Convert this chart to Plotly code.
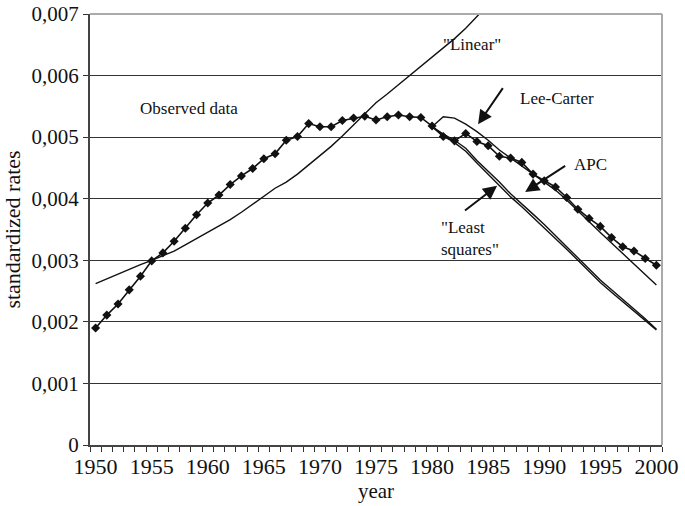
import plotly.graph_objects as go

years = list(range(1950, 2001))
observed = [1.90, 2.11, 2.29, 2.52, 2.74, 2.99, 3.12, 3.31, 3.52, 3.74,
            3.93, 4.06, 4.23, 4.37, 4.49, 4.65, 4.73, 4.95, 5.01, 5.22,
            5.17, 5.17, 5.27, 5.31, 5.34, 5.28, 5.33, 5.36, 5.33, 5.32,
            5.18, 5.01, 4.94, 5.06, 4.93, 4.86, 4.69, 4.66, 4.59, 4.40,
            4.29, 4.19, 4.02, 3.83, 3.68, 3.55, 3.37, 3.22, 3.15, 3.03, 2.92]

linear_years = list(range(1950, 1986))
linear = [2.62, 2.70, 2.78, 2.85, 2.93, 3.00, 3.08, 3.15, 3.25, 3.35,
          3.45, 3.56, 3.66, 3.78, 3.91, 4.05, 4.17, 4.27, 4.40, 4.55,
          4.70, 4.85, 5.02, 5.20, 5.38, 5.56, 5.70, 5.85, 6.00, 6.15,
          6.30, 6.45, 6.60, 6.77, 6.96, 7.15]

proj_years = list(range(1980, 2001))
lee_carter = [5.17, 5.33, 5.31, 5.21, 5.09, 4.95, 4.79, 4.66, 4.53, 4.40,
              4.28, 4.14, 3.98, 3.80, 3.62, 3.45, 3.28, 3.11, 2.94, 2.77, 2.60]
apc = [5.17, 5.05, 4.95, 4.82, 4.62, 4.45, 4.27, 4.08, 3.92, 3.75,
       3.58, 3.40, 3.23, 3.05, 2.87, 2.68, 2.52, 2.37, 2.21, 2.05, 1.88]
least_squares = [5.17, 5.02, 4.91, 4.77, 4.58, 4.40, 4.22, 4.03, 3.87, 3.70,
                 3.53, 3.35, 3.18, 3.00, 2.82, 2.64, 2.48, 2.33, 2.18, 2.03, 1.87]

y_ticks = [0, 0.001, 0.002, 0.003, 0.004, 0.005, 0.006, 0.007]
y_ticktext = ["0", "0,001", "0,002", "0,003", "0,004", "0,005", "0,006", "0,007"]
x_ticks = list(range(1950, 2001, 5))

scale = 0.001
FONT = "Liberation Serif, Times New Roman, serif"

fig = go.Figure()
line_style = dict(color="#111111", width=1.4)
fig.add_trace(go.Scatter(x=linear_years, y=[v * scale for v in linear], mode="lines",
                         line=line_style, showlegend=False))
fig.add_trace(go.Scatter(x=proj_years, y=[v * scale for v in lee_carter], mode="lines",
                         line=line_style, showlegend=False))
fig.add_trace(go.Scatter(x=proj_years, y=[v * scale for v in apc], mode="lines",
                         line=line_style, showlegend=False))
fig.add_trace(go.Scatter(x=proj_years, y=[v * scale for v in least_squares], mode="lines",
                         line=line_style, showlegend=False))
fig.add_trace(go.Scatter(x=years, y=[v * scale for v in observed], mode="lines+markers",
                         line=dict(color="#111111", width=1.6),
                         marker=dict(symbol="diamond", size=7, color="#111111"),
                         showlegend=False))

text_font = dict(family=FONT, size=17, color="#111111")
fig.add_annotation(x=1958.3, y=0.00546, xref="x", yref="y", text="Observed data",
                   showarrow=False, font=text_font)
fig.add_annotation(x=1983.6, y=0.0065, xref="x", yref="y", text='"Linear"',
                   showarrow=False, font=text_font)
fig.add_annotation(x=1991.1, y=0.00562, xref="x", yref="y", text="Lee-Carter",
                   showarrow=False, font=text_font)
fig.add_annotation(x=1994.1, y=0.00455, xref="x", yref="y", text="APC",
                   showarrow=False, font=text_font)
fig.add_annotation(x=1983.4, y=0.00336, xref="x", yref="y", text='"Least<br>squares"',
                   showarrow=False, font=text_font, align="left")

arrow_style = dict(showarrow=True, arrowhead=2, arrowsize=1.4, arrowwidth=2,
                   arrowcolor="#111111", axref="x", ayref="y", xref="x", yref="y", text="")
fig.add_annotation(x=1984.1, y=0.00521, ax=1986.4, ay=0.00582, **arrow_style)
fig.add_annotation(x=1988.3, y=0.00411, ax=1992.0, ay=0.00455, **arrow_style)
fig.add_annotation(x=1985.8, y=0.00421, ax=1982.8, ay=0.00379, **arrow_style)

# light grey top and right frame
fig.add_shape(type="line", xref="paper", yref="paper", x0=0, x1=1, y0=1, y1=1,
              line=dict(color="#aaaaaa", width=2), layer="above")
fig.add_shape(type="line", xref="paper", yref="paper", x0=1, x1=1, y0=0, y1=1,
              line=dict(color="#aaaaaa", width=2), layer="above")

fig.update_layout(
    width=685, height=506,
    margin=dict(l=90, r=23, t=14, b=61, autoexpand=False),
    paper_bgcolor="white", plot_bgcolor="white",
    font=dict(family=FONT, color="#111111"),
    xaxis=dict(range=[1949.5, 2000.5], tickvals=x_ticks, ticks="", showgrid=False,
               automargin=False,
               zeroline=False, showline=True, linecolor="#444444", linewidth=2,
               tickfont=dict(size=22, family=FONT), ticklabelstandoff=1,
               minor=dict(ticks="outside", ticklen=5, tick0=1949.5, dtick=1,
                          tickcolor="#333333", tickwidth=1, showgrid=False),
               title=dict(text="year", font=dict(size=21, family=FONT), standoff=4)),
    yaxis=dict(range=[0, 0.007], tickvals=y_ticks, ticktext=y_ticktext,
               automargin=False,
               ticks="outside", ticklen=5, tickcolor="#333333",
               showgrid=True, gridcolor="#333333", gridwidth=1,
               zeroline=False, showline=True, linecolor="#444444", linewidth=2,
               tickfont=dict(size=21, family=FONT),
               title=dict(text="standardized rates", font=dict(size=22, family=FONT), standoff=8)),
)

fig.write_html("out.html", config={"displayModeBar": False},
               post_script="document.body.style.margin='0';document.body.style.overflow='hidden';")
